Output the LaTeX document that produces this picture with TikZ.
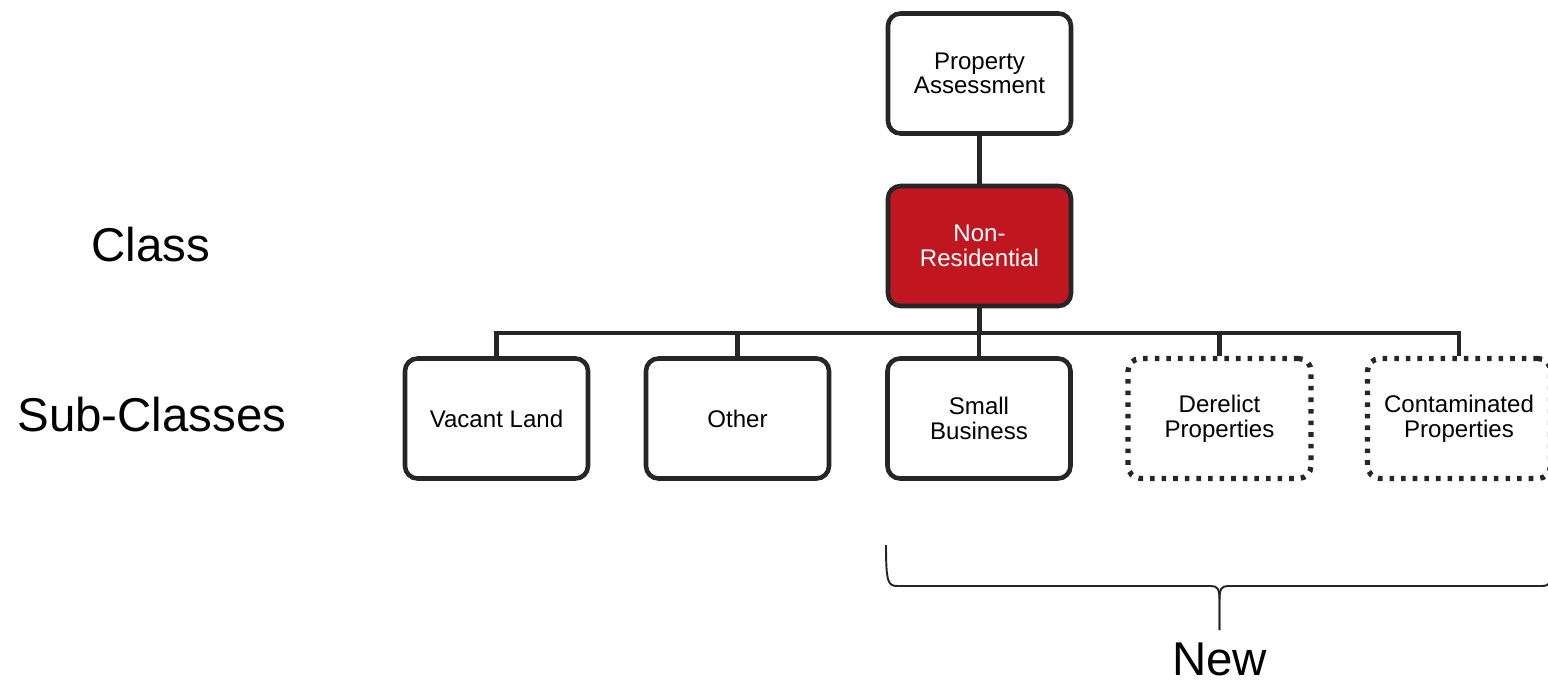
\documentclass[tikz,border=0pt]{standalone}
\usepackage{fontspec}
\setmainfont{Liberation Sans}
\usepackage{tikz}
\usetikzlibrary{positioning,calc}
\definecolor{classred}{RGB}{192,22,32}

\begin{document}
\begin{tikzpicture}[
  box/.style={draw=black!85, line width=2.6pt, rounded corners=0.25cm, fill=white,
    minimum width=3.66cm, minimum height=2.4cm, align=center, inner sep=2pt,
    font=\fontsize{13.7}{14}\selectfont},
  newbox/.style={box, line width=3pt, dash pattern=on 2.6pt off 4pt},
  level/.style={font=\fontsize{27}{30}\selectfont},
  link/.style={line width=2.6pt, draw=black!85},
  bracket/.style={line width=1.1pt, draw=black!85, line join=round}
]
\clip (0,0) rectangle (30.96,13.7);

% Level labels
\node[level] (cls) at (3.02,8.8) {Class};
\node[level] (subcls) at (3.04,5.4) {Sub-Classes};

% Top of the tree
\node[box] (pa) at (19.59,12.23) {Property\\Assessment};
\node[box, fill=classred, text=white] (nr) at (19.59,8.78) {Non-\\Residential};

% Sub-classes
\node[box] (vl) at (9.93,5.33) {Vacant Land};
\node[box] (ot) at (14.75,5.33) {Other};
\node[box] (sb) at (19.58,5.33) {Small\\Business};
\node[newbox] (de) at (24.39,5.33) {Derelict\\Properties};
\node[newbox] (co) at (29.18,5.33) {Contaminated\\Properties};

% Connectors
\coordinate (bus) at (19.59,7.04);
\draw[link] (pa) -- (nr);
\draw[link] (nr) -- (nr |- bus);
\draw[link] (vl) |- (bus) -| (co);
\draw[link] (ot) -- (ot |- bus);
\draw[link] (sb) -- (sb |- bus);
\draw[link] (de) -- (de |- bus);

% Brace over the new ones
\coordinate (bl) at (17.72,2.8);
\coordinate (br) at (31.06,2.8);
\coordinate (tip) at (24.39,1.1);
\draw[bracket] (bl) .. controls (17.72,2.05) and (17.76,1.98) .. (17.95,1.98)
  -- (24.22,1.98) .. controls (24.35,1.98) and (24.39,1.92) .. (24.39,1.7) -- (tip);
\draw[bracket] (tip) -- (24.39,1.7) .. controls (24.39,1.92) and (24.43,1.98) .. (24.56,1.98)
  -- (30.83,1.98) .. controls (31.02,1.98) and (31.06,2.05) .. (br);
\node[level, anchor=base] (new) at (24.39,0.2) {New};

\end{tikzpicture}
\end{document}
